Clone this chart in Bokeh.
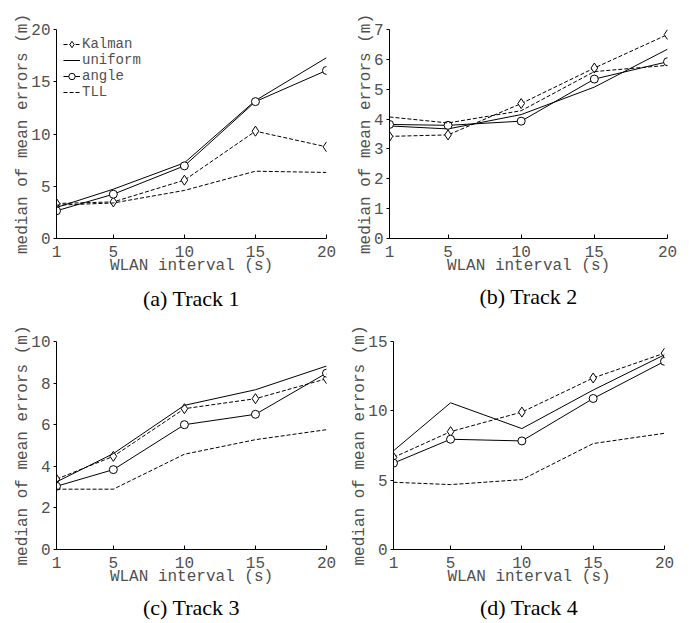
from bokeh.plotting import figure
from bokeh.models import Range1d, FixedTicker, Legend, LegendItem, Title
from bokeh.layouts import column, row
from bokeh.embed import file_html
from bokeh.resources import INLINE

# ---- data ----
intervals = [1, 5, 10, 15, 20]

t1_kalman = [3.35, 3.5, 5.58, 10.27, 8.77]
t1_uniform = [2.97, 4.72, 7.24, 13.2, 17.3]
t1_angle = [2.65, 4.24, 6.95, 13.1, 16.08]
t1_tll = [3.19, 3.4, 4.6, 6.44, 6.32]

t2_kalman = [3.42, 3.47, 4.52, 5.71, 6.83]
t2_uniform = [3.77, 3.67, 4.15, 5.07, 6.34]
t2_angle = [3.82, 3.79, 3.93, 5.34, 5.92]
t2_tll = [4.07, 3.87, 4.28, 5.59, 5.80]

t3_kalman = [3.38, 4.48, 6.77, 7.25, 8.21]
t3_uniform = [3.25, 4.61, 6.93, 7.68, 8.82]
t3_angle = [3.04, 3.84, 6.0, 6.5, 8.48]
t3_tll = [2.9, 2.9, 4.58, 5.28, 5.76]

t4_kalman = [6.64, 8.5, 9.91, 12.37, 14.16]
t4_uniform = [7.12, 10.58, 8.72, 11.5, 14.04]
t4_angle = [6.23, 7.95, 7.83, 10.89, 13.57]
t4_tll = [4.85, 4.68, 5.04, 7.64, 8.38]

t1_yticks = [0, 5, 10, 15, 20]
t2_yticks = [0, 1, 2, 3, 4, 5, 6, 7]
t3_yticks = [0, 2, 4, 6, 8, 10]
t4_yticks = [0, 5, 10, 15]

series_names = ["Kalman", "uniform", "angle", "TLL"]
captions = ["(a) Track 1", "(b) Track 2", "(c) Track 3", "(d) Track 4"]
x_label = "WLAN interval (s)"
y_label = "median of mean errors (m)"

MONO = "Liberation Mono"
TEXT_GRAY = "#505050"


def make_panel(data, ymax, yticks, caption, width, height, bl, br, bt, bb,
               cap_standoff, show_legend=False):
    p = figure(width=width, height=height, output_backend="svg",
               toolbar_location=None,
               x_range=Range1d(1, 20), y_range=Range1d(0, ymax),
               min_border_left=bl, min_border_right=br,
               min_border_top=bt, min_border_bottom=bb)
    p.outline_line_color = None
    p.grid.visible = False
    p.background_fill_color = "white"
    p.border_fill_color = "white"

    xa = p.xaxis[0]
    ya = p.yaxis[0]
    xa.ticker = FixedTicker(ticks=intervals)
    ya.ticker = FixedTicker(ticks=yticks)
    xa.minor_tick_line_color = None
    ya.minor_tick_line_color = None
    xa.major_tick_in = 4
    xa.major_tick_out = 0
    ya.major_tick_in = 0
    ya.major_tick_out = 3
    for ax in (xa, ya):
        ax.axis_line_color = "black"
        ax.major_tick_line_color = "black"
        ax.major_label_text_font = MONO
        ax.major_label_text_font_size = "16px"
        ax.major_label_text_color = TEXT_GRAY
        ax.axis_label_text_font = MONO
        ax.axis_label_text_font_size = "16px"
        ax.axis_label_text_font_style = "normal"
        ax.axis_label_text_color = TEXT_GRAY
    xa.axis_label = x_label
    ya.axis_label = y_label
    xa.major_label_standoff = 7
    xa.axis_label_standoff = -3
    ya.major_label_standoff = 3
    ya.axis_label_standoff = -4

    kal, uni, ang, tll = data
    dash = "4 2"
    r_kl = p.line(intervals, kal, line_color="black", line_width=1, line_dash=dash)
    r_km = p.scatter(intervals, kal, marker="diamond", size=10,
                     line_color="black", fill_color="white", line_width=1)
    r_u = p.line(intervals, uni, line_color="black", line_width=1)
    r_al = p.line(intervals, ang, line_color="black", line_width=1)
    r_am = p.scatter(intervals, ang, marker="circle", size=8,
                     line_color="black", fill_color="white", line_width=1)
    r_t = p.line(intervals, tll, line_color="black", line_width=1, line_dash=dash)

    if show_legend:
        items = [
            LegendItem(label=series_names[0], renderers=[r_kl, r_km]),
            LegendItem(label=series_names[1], renderers=[r_u]),
            LegendItem(label=series_names[2], renderers=[r_al, r_am]),
            LegendItem(label=series_names[3], renderers=[r_t]),
        ]
        leg = Legend(items=items, location="top_left")
        leg.margin = 7
        leg.padding = 0
        leg.spacing = 0
        leg.glyph_width = 17
        leg.glyph_height = 16
        leg.label_height = 16
        leg.label_standoff = 2
        leg.label_text_font = MONO
        leg.label_text_font_size = "14px"
        leg.label_text_color = TEXT_GRAY
        leg.border_line_color = None
        leg.background_fill_alpha = 0
        p.add_layout(leg)

    # caption centred on the whole figure (offset from frame centre)
    frame_center = bl + (width - bl - br) / 2
    t = Title(text=caption, align="center",
              text_font="Liberation Serif", text_font_size="22px",
              text_font_style="normal", text_color="black",
              standoff=cap_standoff, offset=width / 2 - frame_center)
    p.add_layout(t, "below")
    return p


p1 = make_panel([t1_kalman, t1_uniform, t1_angle, t1_tll], 20, t1_yticks,
                captions[0], 344, 316, 56, 18, 29, 78, 12, show_legend=True)
p2 = make_panel([t2_kalman, t2_uniform, t2_angle, t2_tll], 7, t2_yticks,
                captions[1], 345, 316, 45, 22, 25, 75, 9)
p3 = make_panel([t3_kalman, t3_uniform, t3_angle, t3_tll], 10, t3_yticks,
                captions[2], 344, 307, 56, 18, 25, 74, 8)
p4 = make_panel([t4_kalman, t4_uniform, t4_angle, t4_tll], 15, t4_yticks,
                captions[3], 345, 307, 49, 25, 24, 74, 8)

layout = column(row(p1, p2), row(p3, p4))

open("out.html", "w").write(file_html(layout, INLINE))
